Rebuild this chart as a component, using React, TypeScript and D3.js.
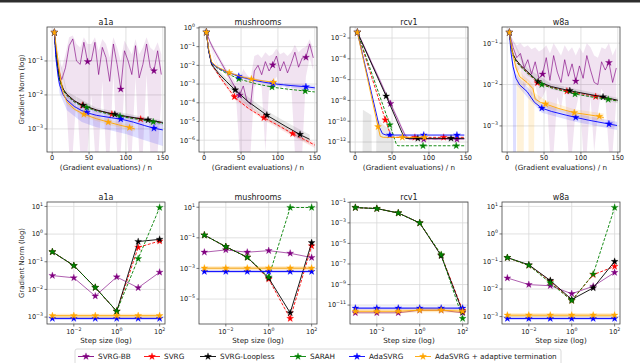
import * as d3 from "d3";

type Pt = [number, number]; // [x, log10 of gradient norm]
type Band = [number, number, number]; // [x, log10 low, log10 high]

const DATASETS = ["a1a", "mushrooms", "rcv1", "w8a"];
const METHODS = ["SVRG-BB", "SVRG", "SVRG-Loopless", "SARAH", "AdaSVRG", "AdaSVRG + adaptive termination"];
const COLORS = ["#800080", "#ff0000", "#000000", "#008000", "#0000ff", "#ffa500"];

// ---------- top row: gradient norm vs (gradient evaluations)/n ----------
const BB_X = [3, 8, 13, 18, 23, 28, 33, 38, 43, 48, 53, 58, 63, 68, 73, 78, 83, 88, 93, 98, 103, 108, 113, 118, 123, 128, 133, 138, 143, 148];
const TOP_XTICKS = [0, 50, 100, 150];

const A1A_BB = [-0.16, -1.2, -1.55, -1.2, -0.55, -0.35, -1.0, -1.1, -0.45, -1.02, -1.0, -0.45, -1.4, -0.6, -0.9, -1.6, -0.5, -1.1, -1.83, -0.7, -1.0, -1.4, -0.55, -1.5, -1.1, -0.5, -1.2, -1.29, -0.7, -1.4];
const A1A_BB_HI = [-0.16, -0.9, -1.2, -0.8, -0.3, -0.25, -0.5, -0.6, -0.3, -0.5, -0.5, -0.3, -0.7, -0.35, -0.5, -0.9, -0.3, -0.6, -1.0, -0.4, -0.6, -0.8, -0.35, -0.8, -0.6, -0.3, -0.6, -0.7, -0.45, -0.8];
const A1A_BB_LO = [-0.16, -1.5, -2.0, -1.8, -9, -9, -2.0, -9, -9, -9, -2.0, -9, -9, -1.6, -9, -9, -1.4, -9, -9, -1.7, -9, -9, -1.5, -9, -9, -1.4, -9, -9, -9, -2.2];
const A1A_SVRG: Pt[] = [[3, -0.16], [5, -0.75], [8, -1.3], [10, -1.55], [15, -1.85], [20, -2.0], [30, -2.18], [40, -2.3], [60, -2.45], [80, -2.56], [100, -2.64], [120, -2.71], [150, -2.82]];
const A1A_LOOP: Pt[] = [[3, -0.16], [5, -0.72], [8, -1.28], [10, -1.53], [15, -1.83], [20, -1.98], [30, -2.17], [40, -2.29], [60, -2.44], [80, -2.55], [100, -2.63], [120, -2.7], [150, -2.81]];
const A1A_SARAH: Pt[] = [[3, -0.16], [5, -0.78], [8, -1.32], [10, -1.57], [15, -1.87], [20, -2.02], [30, -2.21], [40, -2.32], [60, -2.47], [80, -2.58], [100, -2.66], [120, -2.73], [150, -2.84]];
const A1A_ADA: Pt[] = [[3, -0.16], [5, -0.9], [8, -1.45], [10, -1.7], [15, -2.0], [20, -2.15], [30, -2.34], [40, -2.46], [50, -2.54], [60, -2.6], [80, -2.67], [95, -2.72], [110, -2.8], [125, -2.9], [138, -2.98], [150, -3.03]];
const A1A_ADAT: Pt[] = [[3, -0.16], [5, -0.5], [8, -1.0], [12, -1.6], [15, -1.95], [20, -2.2], [30, -2.42], [43, -2.57], [60, -2.7], [76, -2.8], [90, -2.88], [105, -2.96], [112, -3.0]];
const A1A_ADA_BAND: Band[] = [[3, -0.16, -0.16], [10, -1.95, -1.5], [20, -2.45, -2.0], [40, -2.8, -2.3], [60, -2.95, -2.45], [80, -3.05, -2.52], [100, -3.15, -2.6], [120, -3.3, -2.68], [150, -3.5, -2.8]];
const A1A_ADAT_BAND: Band[] = [[3, -0.16, -0.16], [12, -1.75, -1.45], [20, -2.3, -2.1], [43, -2.65, -2.5], [76, -2.88, -2.72], [112, -3.08, -2.92]];
const A1A_LOOP_BAND: Band[] = [[3, -0.16, -0.16], [20, -2.1, -1.9], [60, -2.52, -2.38], [150, -2.9, -2.75]];
const A1A_ADAT_MARKS = [3, 43, 76, 105];

const MUSH_BB = [-0.23, -0.75, -1.15, -1.5, -1.85, -2.2, -2.55, -2.9, -3.25, -3.6, -3.1, -3.9, -4.1, -2.3, -2.0, -2.5, -1.8, -2.3, -1.98, -1.5, -2.3, -1.8, -2.4, -1.9, -1.3, -2.1, -1.6, -1.57, -0.85, -1.6];
const MUSH_BB_HI = [-0.23, -0.65, -1.0, -1.35, -1.7, -2.05, -2.35, -2.65, -2.95, -2.8, -2.2, -2.5, -2.7, -1.5, -1.4, -1.6, -1.3, -1.5, -1.4, -1.1, -1.4, -1.3, -1.5, -1.3, -0.9, -1.3, -1.1, -1.0, -0.6, -1.1];
const MUSH_BB_LO = [-0.23, -0.85, -1.3, -1.65, -2.0, -2.35, -2.75, -3.15, -3.55, -9, -9, -9, -9, -3.2, -2.9, -3.2, -9, -3.3, -3.0, -2.6, -3.3, -2.9, -3.4, -3.0, -9, -9, -9, -2.6, -1.6, -2.3];
const MUSH_SVRG: Pt[] = [[3, -0.23], [6, -1.2], [10, -1.95], [15, -2.25], [20, -2.55], [30, -3.1], [42, -3.73], [60, -4.3], [80, -4.78], [100, -5.2], [119, -5.63], [135, -5.95], [150, -6.26]];
const MUSH_LOOP: Pt[] = [[3, -0.23], [6, -1.2], [10, -1.95], [15, -2.2], [20, -2.45], [30, -2.85], [41, -3.28], [60, -3.95], [86, -4.69], [110, -5.25], [133, -5.76], [143, -5.95]];
const MUSH_SARAH: Pt[] = [[3, -0.23], [6, -1.2], [10, -1.9], [15, -2.05], [20, -2.2], [30, -2.42], [48, -2.74], [70, -2.98], [93, -3.17], [115, -3.28], [137, -3.37], [150, -3.42]];
const MUSH_ADA: Pt[] = [[3, -0.23], [6, -1.2], [10, -1.88], [15, -2.03], [20, -2.16], [30, -2.34], [48, -2.6], [70, -2.82], [93, -2.98], [115, -3.07], [137, -3.14], [150, -3.2]];
const MUSH_ADAT: Pt[] = [[3, -0.23], [6, -1.1], [10, -1.8], [15, -2.0], [20, -2.13], [34, -2.39], [50, -2.6], [64, -2.73], [80, -2.83], [94, -2.9], [96, -2.91]];
const MUSH_LOOP_BAND: Band[] = [[3, -0.23, -0.23], [10, -2.05, -1.85], [20, -2.62, -2.3], [41, -3.5, -3.05], [60, -4.2, -3.7], [86, -4.95, -4.45], [110, -5.5, -5.0], [133, -6.02, -5.5], [143, -6.22, -5.7]];
const MUSH_SVRG_BAND: Band[] = [[3, -0.23, -0.23], [20, -2.65, -2.45], [42, -3.85, -3.6], [80, -4.9, -4.65], [119, -5.77, -5.5], [150, -6.42, -6.12]];
const MUSH_ADA_BAND: Band[] = [[3, -0.23, -0.23], [20, -2.22, -2.1], [48, -2.68, -2.52], [93, -3.08, -2.9], [150, -3.33, -3.08]];
const MUSH_ADAT_MARKS = [3, 34, 64, 94];

const RCV1_BB = [-1.45, -2.2, -2.95, -3.7, -4.5, -5.25, -6.0, -6.8, -7.6, -8.3, -9.1, -9.85, -10.65, -11.4, -11.72, -11.72, -11.7, -11.74, -11.74, -11.72, -11.7, -11.74, -11.72, -11.72, -11.7, -11.74, -11.72, -11.74, -11.72, -11.72];
const RCV1_BB_HI = [-1.45, -2.0, -2.75, -3.5, -4.3, -5.0, -5.75, -6.55, -7.35, -8.05, -8.85, -9.6, -10.4, -11.15, -11.6, -11.62, -11.6, -11.62, -11.62, -11.62, -11.6, -11.62, -11.62, -11.62, -11.6, -11.62, -11.62, -11.62, -11.62, -11.62];
const RCV1_BB_LO = [-1.45, -2.4, -3.15, -3.9, -4.7, -5.5, -6.25, -7.05, -7.85, -8.55, -9.35, -10.1, -10.9, -11.65, -11.82, -11.82, -11.8, -11.84, -11.84, -11.82, -11.8, -11.84, -11.82, -11.82, -11.8, -11.84, -11.82, -11.84, -11.82, -11.82];
const RCV1_SVRG: Pt[] = [[3, -1.45], [41, -9.88], [49, -11.5], [52, -11.55], [148, -11.55]];
const RCV1_LOOP: Pt[] = [[3, -1.45], [46, -8.22], [66, -11.5], [69, -11.65], [148, -11.65]];
const RCV1_SARAH: Pt[] = [[3, -1.45], [46, -10.14], [56, -12.25], [58, -12.36], [148, -12.36]];
const RCV1_ADA: Pt[] = [[3, -1.45], [33, -10.6], [37, -11.2], [42, -11.33], [148, -11.33]];
const RCV1_ADAT: Pt[] = [[3, -1.45], [31, -10.53], [34, -11.45], [38, -11.55], [95, -11.55]];
const RCV1_LOOP_BAND: Band[] = [[10, -20, -20], [10.5, -20, -8.9], [22, -20, -9.4], [22.5, -20, -20], [28.5, -20, -20], [29, -20, -9.8], [50, -20, -11.0], [52, -20, -11.3], [52.5, -20, -20]];
const RCV1_ADAT_MARKS = [3, 31, 64, 94];

const W8A_BB = [-0.74, -1.1, -1.35, -1.25, -1.6, -1.4, -1.75, -1.45, -1.85, -1.75, -1.35, -1.9, -1.3, -1.7, -1.95, -1.4, -1.8, -1.5, -1.92, -1.55, -1.85, -1.3, -1.65, -1.95, -2.0, -1.45, -1.65, -1.47, -1.95, -1.6];
const W8A_BB_HI = [-0.74, -0.95, -1.05, -1.0, -1.1, -1.05, -1.15, -1.1, -1.2, -1.15, -1.05, -1.25, -1.0, -1.15, -1.3, -1.05, -1.2, -1.1, -1.3, -1.1, -1.25, -1.0, -1.1, -1.3, -1.35, -1.1, -1.15, -1.0, -1.3, -1.1];
const W8A_BB_LO = [-0.74, -1.3, -1.7, -1.6, -2.1, -1.9, -2.3, -2.0, -2.4, -2.3, -2.1, -9, -9, -2.3, -2.6, -2.0, -9, -9, -2.6, -2.2, -9, -9, -2.3, -9, -2.7, -2.1, -2.3, -9, -9, -2.4];
const W8A_SVRG: Pt[] = [[3, -0.74], [5, -1.05], [8, -1.29], [12, -1.42], [18, -1.55], [27, -1.7], [41, -1.96], [60, -2.07], [81, -2.16], [100, -2.22], [120, -2.29], [150, -2.39]];
const W8A_LOOP: Pt[] = [[3, -0.74], [5, -1.03], [8, -1.27], [12, -1.4], [18, -1.53], [27, -1.68], [42, -1.93], [60, -2.05], [85, -2.15], [100, -2.2], [130, -2.3], [150, -2.38]];
const W8A_SARAH: Pt[] = [[3, -0.74], [5, -1.07], [8, -1.31], [12, -1.44], [18, -1.57], [27, -1.72], [47, -2.0], [60, -2.08], [92, -2.23], [115, -2.3], [137, -2.36], [150, -2.4]];
const W8A_ADA: Pt[] = [[3, -0.74], [5, -1.2], [8, -1.57], [12, -1.85], [17, -2.01], [27, -2.17], [37, -2.43], [47, -2.57], [60, -2.65], [80, -2.74], [92, -2.79], [110, -2.86], [137, -2.95], [149, -2.99]];
const W8A_ADAT: Pt[] = [[3, -0.74], [5, -1.0], [8, -1.3], [12, -1.6], [17, -1.81], [27, -1.95], [35, -2.1], [38, -2.35], [45, -2.43], [52, -2.47], [70, -2.58], [91, -2.68], [110, -2.73], [125, -2.77], [131, -2.8]];
const W8A_ADAT_BAND: Band[] = [[3, -0.74, -0.74], [13, -1.75, -1.55], [13.5, -9, -1.55], [22.5, -9, -1.8], [23, -1.98, -1.8], [28.5, -2.05, -1.88], [29, -9, -1.88], [36.5, -9, -2.05], [37, -2.45, -2.2], [52, -2.56, -2.38], [91, -2.76, -2.6], [131, -2.9, -2.7]];
const W8A_ADA_BAND: Band[] = [[3, -0.74, -0.74], [7.5, -1.7, -1.45], [8, -9, -1.45], [12, -9, -1.75], [12.5, -2.0, -1.75], [27, -2.3, -2.05], [47, -2.68, -2.47], [92, -2.9, -2.7], [149, -3.1, -2.9]];
const W8A_LOOP_BAND: Band[] = [[3, -0.74, -0.74], [27, -1.78, -1.6], [60, -2.12, -1.98], [150, -2.45, -2.32]];
const W8A_ADAT_MARKS = [3, 52, 91, 125];

// marker positions shared by the panels (x in gradient evaluations / n)
const BB_MARKS = [3, 48, 93, 138];
const SVRG_MARKS = [3, 41, 81, 120];
const LOOP_MARKS = [3, 42, 85, 130];
const SARAH_MARKS = [3, 47, 92, 137];
const ADA_MARKS = [3, 47, 93, 138];

const TOP_YLIM = [[-3.68, 0], [-6.63, 0.05], [-12.96, -0.94], [-3.63, -0.61]];
const TOP_YTICKS = [[-1, -2, -3], [0, -1, -2, -3, -4, -5, -6], [-2, -4, -6, -8, -10, -12], [-1, -2, -3]];

// ---------- bottom row: final gradient norm vs step size ----------
const STEP_SIZES = [1e-3, 1e-2, 1e-1, 1, 10, 100];
const BOT_XTICKS = [-2, 0, 2];

const A1A_STEP = [
  [-1.5, -1.58, -2.24, -1.55, -1.94, -1.38],
  [-0.64, -1.14, -1.93, -2.79, -0.48, -0.25],
  [-0.64, -1.14, -1.93, -2.79, -0.27, -0.19],
  [-0.64, -1.14, -1.93, -2.79, -0.89, 0.96],
  [-3.05, -3.05, -3.05, -3.05, -3.05, -3.05],
  [-2.95, -2.95, -2.95, -2.95, -2.95, -2.95],
];
const MUSH_STEP = [
  [-1.94, -1.79, -1.94, -1.84, -2.01, -2.29],
  [-0.82, -1.58, -2.27, -3.7, -6.27, -1.53],
  [-0.82, -1.58, -2.27, -3.63, -5.9, -1.32],
  [-0.82, -1.58, -2.27, -3.56, 0.98, 0.98],
  [-3.2, -3.2, -3.2, -3.2, -3.2, -3.2],
  [-2.98, -2.98, -2.98, -2.98, -2.98, -2.98],
];
const RCV1_STEP = [
  [-11.75, -11.75, -11.75, -11.5, -11.5, -11.75],
  [-1.51, -1.61, -2.04, -3.01, -6.15, -11.5],
  [-1.51, -1.61, -2.04, -3.01, -6.2, -11.65],
  [-1.51, -1.61, -2.04, -3.01, -6.08, -12.3],
  [-11.3, -11.3, -11.3, -11.3, -11.3, -11.3],
  [-11.6, -11.6, -11.6, -11.5, -11.5, -11.6],
];
const W8A_STEP = [
  [-1.6, -1.84, -1.88, -2.17, -1.9, -1.4],
  [-0.86, -1.14, -1.72, -2.42, -1.48, -1.18],
  [-0.86, -1.12, -1.69, -2.38, -1.96, -1.0],
  [-0.86, -1.14, -1.78, -2.42, -1.46, 0.96],
  [-3.07, -3.07, -3.07, -3.07, -3.07, -3.07],
  [-2.95, -2.95, -2.95, -2.95, -2.95, -2.95],
];
const BOT_YLIM = [[-3.25, 1.16], [-6.63, 1.34], [-12.84, -0.97], [-3.27, 1.16]];
const BOT_YTICKS = [[1, 0, -1, -2, -3], [1, -1, -3, -5], [-1, -3, -5, -7, -9, -11], [1, 0, -1, -2, -3]];

// ---------- tables built from the arrays ----------
const bbPts = (v: number[]): Pt[] => BB_X.map((x, i) => [x, v[i]]);
const bbBand = (lo: number[], hi: number[]): Band[] => BB_X.map((x, i) => [x, lo[i], hi[i]]);

const TOP = [
  {
    series: [bbPts(A1A_BB), A1A_SVRG, A1A_LOOP, A1A_SARAH, A1A_ADA, A1A_ADAT],
    bands: [{ m: 0, pts: bbBand(A1A_BB_LO, A1A_BB_HI) }, { m: 2, pts: A1A_LOOP_BAND }, { m: 4, pts: A1A_ADA_BAND }, { m: 5, pts: A1A_ADAT_BAND }],
    adatMarks: A1A_ADAT_MARKS,
  },
  {
    series: [bbPts(MUSH_BB), MUSH_SVRG, MUSH_LOOP, MUSH_SARAH, MUSH_ADA, MUSH_ADAT],
    bands: [{ m: 0, pts: bbBand(MUSH_BB_LO, MUSH_BB_HI) }, { m: 2, pts: MUSH_LOOP_BAND }, { m: 1, pts: MUSH_SVRG_BAND }, { m: 4, pts: MUSH_ADA_BAND }],
    adatMarks: MUSH_ADAT_MARKS,
  },
  {
    series: [bbPts(RCV1_BB), RCV1_SVRG, RCV1_LOOP, RCV1_SARAH, RCV1_ADA, RCV1_ADAT],
    bands: [{ m: 0, pts: bbBand(RCV1_BB_LO, RCV1_BB_HI) }, { m: 2, pts: RCV1_LOOP_BAND }],
    adatMarks: RCV1_ADAT_MARKS,
  },
  {
    series: [bbPts(W8A_BB), W8A_SVRG, W8A_LOOP, W8A_SARAH, W8A_ADA, W8A_ADAT],
    bands: [{ m: 0, pts: bbBand(W8A_BB_LO, W8A_BB_HI) }, { m: 2, pts: W8A_LOOP_BAND }, { m: 4, pts: W8A_ADA_BAND }, { m: 5, pts: W8A_ADAT_BAND }],
    adatMarks: W8A_ADAT_MARKS,
  },
];
const BOT = [A1A_STEP, MUSH_STEP, RCV1_STEP, W8A_STEP];

// ---------- layout ----------
const W = 640;
const H = 363;
const COL_LEFT = [47, 199, 350, 502];
const PANEL_W = 118;
const TOP_T = 27;
const TOP_B = 152;
const BOT_T = 202;
const BOT_B = 324;
const FONT = "DejaVu Sans, sans-serif";
const DASH = [null, "3,1.6", null, "3,1.6", null, null];
const BAND_OPACITY = [0.11, 0.1, 0.09, 0.12, 0.13, 0.15];

const starPath = d3.symbol().type(d3.symbolStar).size(15)() as string;

function Star({ x, y, c }: { x: number; y: number; c: string }) {
  return <path d={starPath} transform={`translate(${x},${y})`} fill={c} stroke={c} strokeWidth={0.3} />;
}

function Pow({ x, y, e, anchor }: { x: number; y: number; e: number; anchor: string }) {
  const s = e < 0 ? "\u2212" + -e : String(e);
  return (
    <text x={x} y={y} textAnchor={anchor} fontSize={6.6} fill="#222">
      10<tspan dy={-3} fontSize={4.7}>{s}</tspan>
    </text>
  );
}

function TopPanel({ i }: { i: number }) {
  const d = TOP[i];
  const left = COL_LEFT[i];
  const right = left + PANEL_W;
  const x = d3.scaleLinear().domain([-7, 153]).range([left, right]);
  const [ylo, yhi] = TOP_YLIM[i];
  const y = d3.scaleLog().domain([10 ** ylo, 10 ** yhi]).range([TOP_B, TOP_T]).clamp(true);
  const line = d3.line<Pt>().x((p) => x(p[0])).y((p) => y(10 ** p[1]));
  const area = d3.area<Band>().x((p) => x(p[0])).y0((p) => y(10 ** p[1])).y1((p) => y(10 ** p[2]));
  const marks = [BB_MARKS, SVRG_MARKS, LOOP_MARKS, SARAH_MARKS, ADA_MARKS, d.adatMarks];
  const clip = `clip-top-${i}`;
  return (
    <g>
      <clipPath id={clip}>
        <rect x={left} y={TOP_T} width={PANEL_W} height={TOP_B - TOP_T} />
      </clipPath>
      {TOP_XTICKS.map((t) => (
        <line key={"gx" + t} x1={x(t)} x2={x(t)} y1={TOP_T} y2={TOP_B} stroke="#d9d9d9" strokeWidth={0.8} />
      ))}
      {TOP_YTICKS[i].map((t) => (
        <line key={"gy" + t} x1={left} x2={right} y1={y(10 ** t)} y2={y(10 ** t)} stroke="#d9d9d9" strokeWidth={0.8} />
      ))}
      <g clipPath={`url(#${clip})`}>
        {d.bands.map((b, k) => (
          <path key={"b" + k} d={area(b.pts) as string} fill={COLORS[b.m]} fillOpacity={BAND_OPACITY[b.m]} />
        ))}
        {d.series.map((s, m) => {
          const interp = d3.scaleLinear().domain(s.map((p) => p[0])).range(s.map((p) => p[1]));
          const last = s[s.length - 1][0];
          return (
            <g key={"s" + m}>
              <path d={line(s) as string} fill="none" stroke={COLORS[m]} strokeWidth={0.9}
                strokeOpacity={m === 0 ? 0.7 : 1} strokeDasharray={DASH[m] ?? undefined} />
              {marks[m].filter((mx) => mx <= last).map((mx) => (
                <Star key={mx} x={x(mx)} y={y(10 ** interp(mx))} c={COLORS[m]} />
              ))}
            </g>
          );
        })}
      </g>
      <rect x={left} y={TOP_T} width={PANEL_W} height={TOP_B - TOP_T} fill="none" stroke="#444" strokeWidth={0.8} />
      {TOP_XTICKS.map((t) => (
        <g key={"tx" + t}>
          <line x1={x(t)} x2={x(t)} y1={TOP_B} y2={TOP_B + 2.5} stroke="#444" strokeWidth={0.7} />
          <text x={x(t)} y={TOP_B + 7.8} textAnchor="middle" fontSize={6.6} fill="#222">{t}</text>
        </g>
      ))}
      {TOP_YTICKS[i].map((t) => (
        <g key={"ty" + t}>
          <line x1={left - 2.5} x2={left} y1={y(10 ** t)} y2={y(10 ** t)} stroke="#444" strokeWidth={0.7} />
          <Pow x={left - 4} y={y(10 ** t) + 2.4} e={t} anchor="end" />
        </g>
      ))}
      <text x={(left + right) / 2} y={TOP_T - 2.5} textAnchor="middle" fontSize={8} fill="#222">{DATASETS[i]}</text>
      <text x={(left + right) / 2} y={170} textAnchor="middle" fontSize={7.2} fill="#222">(Gradient evaluations) / n</text>
    </g>
  );
}

function BottomPanel({ i }: { i: number }) {
  const vals = BOT[i];
  const left = COL_LEFT[i];
  const right = left + PANEL_W;
  const x = d3.scaleLog().domain([10 ** -3.25, 10 ** 2.25]).range([left, right]);
  const [ylo, yhi] = BOT_YLIM[i];
  const y = d3.scaleLog().domain([10 ** ylo, 10 ** yhi]).range([BOT_B, BOT_T]).clamp(true);
  const line = d3.line<number>().x((_, k) => x(STEP_SIZES[k])).y((v) => y(10 ** v));
  const clip = `clip-bot-${i}`;
  return (
    <g>
      <clipPath id={clip}>
        <rect x={left} y={BOT_T} width={PANEL_W} height={BOT_B - BOT_T} />
      </clipPath>
      {BOT_XTICKS.map((t) => (
        <line key={"gx" + t} x1={x(10 ** t)} x2={x(10 ** t)} y1={BOT_T} y2={BOT_B} stroke="#d9d9d9" strokeWidth={0.8} />
      ))}
      {BOT_YTICKS[i].map((t) => (
        <line key={"gy" + t} x1={left} x2={right} y1={y(10 ** t)} y2={y(10 ** t)} stroke="#d9d9d9" strokeWidth={0.8} />
      ))}
      <g clipPath={`url(#${clip})`}>
        {vals.map((s, m) => (
          <g key={"s" + m}>
            {m >= 4 && (
              <path d={line(s) as string} fill="none" stroke={COLORS[m]} strokeWidth={m === 5 ? 4 : 2.6} strokeOpacity={0.22} />
            )}
            <path d={line(s) as string} fill="none" stroke={COLORS[m]} strokeWidth={0.9}
              strokeOpacity={m === 0 ? 0.7 : 1} strokeDasharray={DASH[m] ?? undefined} />
            {s.map((v, k) => (
              <Star key={k} x={x(STEP_SIZES[k])} y={y(10 ** v)} c={COLORS[m]} />
            ))}
          </g>
        ))}
      </g>
      <rect x={left} y={BOT_T} width={PANEL_W} height={BOT_B - BOT_T} fill="none" stroke="#444" strokeWidth={0.8} />
      {BOT_XTICKS.map((t) => (
        <g key={"tx" + t}>
          <line x1={x(10 ** t)} x2={x(10 ** t)} y1={BOT_B} y2={BOT_B + 2.5} stroke="#444" strokeWidth={0.7} />
          <Pow x={x(10 ** t)} y={BOT_B + 10} e={t} anchor="middle" />
        </g>
      ))}
      {BOT_YTICKS[i].map((t) => (
        <g key={"ty" + t}>
          <line x1={left - 2.5} x2={left} y1={y(10 ** t)} y2={y(10 ** t)} stroke="#444" strokeWidth={0.7} />
          <Pow x={left - 4} y={y(10 ** t) + 2.4} e={t} anchor="end" />
        </g>
      ))}
      <text x={(left + right) / 2} y={BOT_T - 2.5} textAnchor="middle" fontSize={8} fill="#222">{DATASETS[i]}</text>
      <text x={(left + right) / 2} y={343} textAnchor="middle" fontSize={7.2} fill="#222">Step size (log)</text>
    </g>
  );
}

const LEGEND_X = [86, 152, 208, 298, 357, 423];

export default function App() {
  return (
    <svg width={W} height={H} viewBox={`0 0 ${W} ${H}`} fontFamily={FONT}
      style={{ position: "absolute", left: 0, top: 0, background: "#fff" }}>
      <rect x={0} y={0} width={W} height={2.5} fill="#2e2e2e" />
      {DATASETS.map((_, i) => <TopPanel key={"t" + i} i={i} />)}
      {DATASETS.map((_, i) => <BottomPanel key={"b" + i} i={i} />)}
      <text transform={`translate(24,${(TOP_T + TOP_B) / 2}) rotate(-90)`} textAnchor="middle" fontSize={7} fill="#222">Gradient Norm (log)</text>
      <text transform={`translate(24,${(BOT_T + BOT_B) / 2}) rotate(-90)`} textAnchor="middle" fontSize={7} fill="#222">Gradient Norm (log)</text>
      <rect x={75} y={349} width={486} height={17} rx={2} fill="#fff" stroke="#d0d0d0" strokeWidth={0.8} />
      {METHODS.map((name, m) => (
        <g key={name}>
          <line x1={LEGEND_X[m] - 8} x2={LEGEND_X[m] + 8} y1={356.5} y2={356.5} stroke={COLORS[m]} strokeWidth={0.9} />
          <Star x={LEGEND_X[m]} y={356.5} c={COLORS[m]} />
          <text x={LEGEND_X[m] + 12} y={359} fontSize={7.3} fill="#222">{name}</text>
        </g>
      ))}
    </svg>
  );
}
